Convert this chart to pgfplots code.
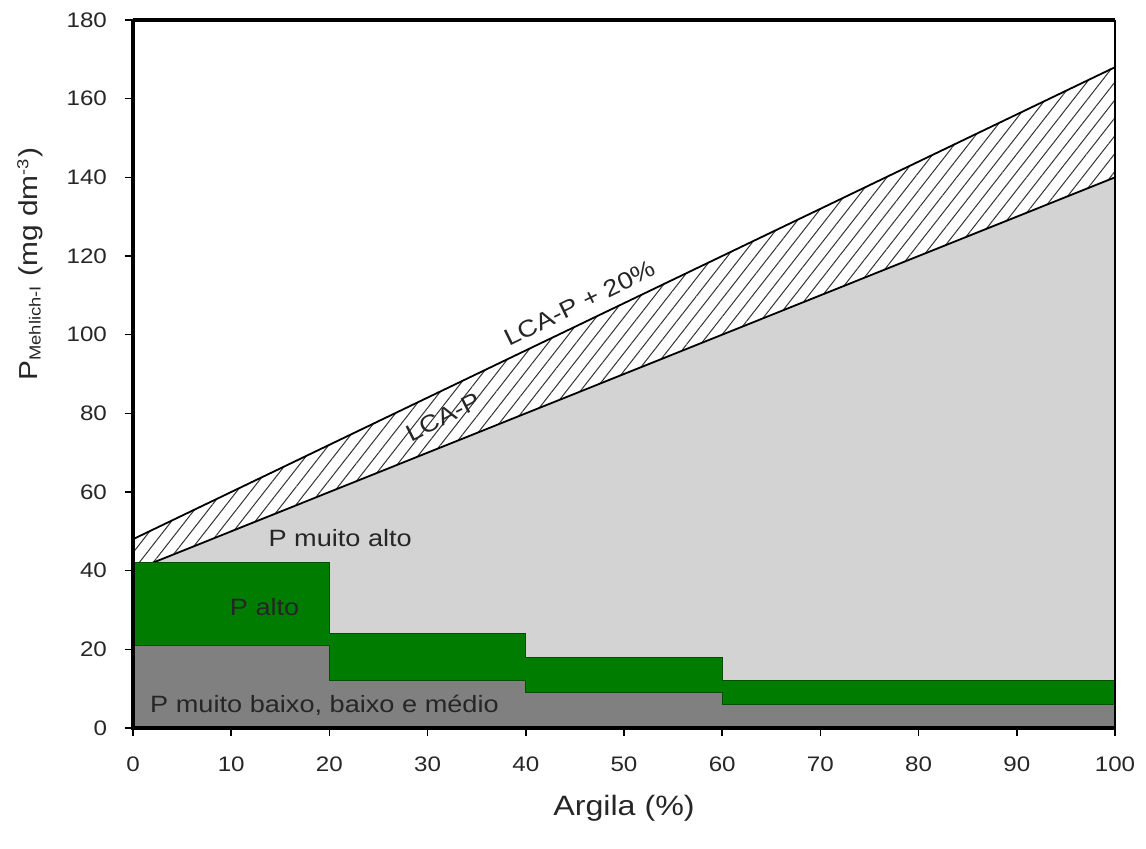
\documentclass[border=0pt]{standalone}
\usepackage{fontspec}
\setmainfont{Liberation Sans}[FakeStretch=1.15]
\usepackage{pgfplots}
\pgfplotsset{compat=1.18}
\usetikzlibrary{patterns.meta}
\definecolor{lgray}{RGB}{211,211,211}
\definecolor{dgray}{RGB}{128,128,128}
\definecolor{pgreen}{RGB}{0,125,0}
\definecolor{dgreen}{RGB}{0,80,0}
\begin{document}
\begin{tikzpicture}
\useasboundingbox (-66.5pt,-60pt) rectangle (506.5pt,364pt);
\begin{axis}[
  at={(0,0)}, anchor=origin,
  scale only axis, width=491pt, height=354pt,
  xmin=0, xmax=100, ymin=0, ymax=180,
  xtick={0,10,...,100}, ytick={0,20,...,180},
  tick pos=left, tick align=outside,
  major tick length=4pt,
  tick style={black, line width=0.8pt},
  axis line style={draw=none},
  /pgf/number format/assume math mode=true,
  tick label style={font=\fontsize{10.5}{12}\selectfont, text=black!85},
  xticklabel style={yshift=-7pt},
  yticklabel style={xshift=-5.5pt},
  every axis x label/.style={at={(axis description cs:0.5,-0.113)}, anchor=center},
  every axis y label/.style={at={(axis description cs:-0.105,0.655)}, rotate=90, anchor=center},
  xlabel style={font=\fontsize{14}{16}\selectfont, text=black!85},
  ylabel style={font=\fontsize{13}{15}\selectfont, text=black!85},
  xlabel={Argila (\%)},
  ylabel={P\textsubscript{\fontsize{8}{9}\selectfont Mehlich-I} (mg dm\textsuperscript{\fontsize{8}{9}\selectfont -3})},
  clip=false,
]
% P muito alto region (below LCA-P)
\addplot[draw=none, fill=lgray] coordinates {(0,0) (0,40) (100,140) (100,0)} -- cycle;
% hatched band between LCA-P and LCA-P + 20%
\addplot[draw=none, pattern={Lines[angle=52, distance=5.5pt, line width=0.5pt]}, pattern color=black!80]
  coordinates {(0,40) (100,140) (100,168) (0,48)} -- cycle;
\addplot[black, line width=0.9pt] coordinates {(0,40) (100,140)};
\addplot[black, line width=0.9pt] coordinates {(0,48) (100,168)};
% P muito baixo, baixo e medio
\addplot[draw=none, fill=dgray] coordinates {(0,0) (0,21) (20,21) (20,12) (40,12) (40,9) (60,9) (60,6) (100,6) (100,0)} -- cycle;
% P alto
\addplot[draw=dgreen, line width=0.6pt, fill=pgreen] coordinates {(0,42) (20,42) (20,24) (40,24) (40,18) (60,18) (60,12) (100,12) (100,6) (60,6) (60,9) (40,9) (40,12) (20,12) (20,21) (0,21)} -- cycle;
% labels
\node[font=\fontsize{11.8}{13}\selectfont, text=black!85] at (axis cs:21.1,48.3) {P muito alto};
\node[font=\fontsize{11.8}{13}\selectfont, text=black!85] at (axis cs:13.4,30.8) {P alto};
\node[font=\fontsize{11.8}{13}\selectfont, text=black!85] at (axis cs:19.5,5.8) {P muito baixo, baixo e médio};
\node[font=\fontsize{11.8}{13}\selectfont, rotate=26, text=black!85] at (axis cs:45.5,108) {LCA-P + 20\%};
\node[font=\fontsize{11.8}{13}\selectfont, rotate=27, text=black!85] at (axis cs:31.6,79) {LCA-P};
% frame
\draw[line width=2pt] (axis cs:0,180) -- (axis cs:0,0) -- (axis cs:100,0);
\draw[line width=2pt] (axis cs:0,180) -- (axis cs:100,180);
\draw[line width=0.75pt] (axis cs:100,0) -- (axis cs:100,180);
\end{axis}
\end{tikzpicture}
\end{document}
